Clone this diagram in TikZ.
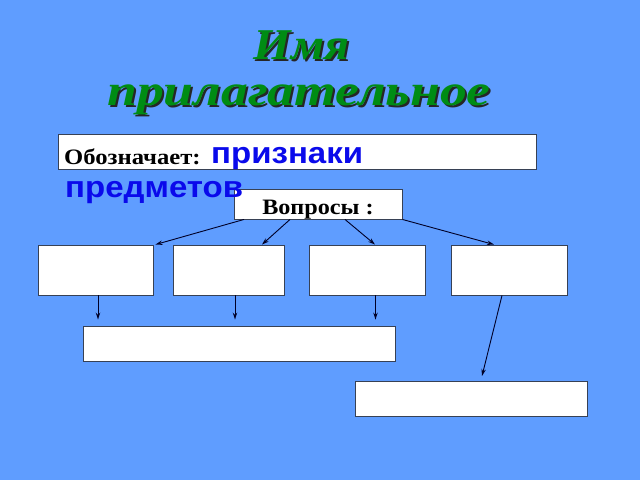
\documentclass[tikz,border=0pt]{standalone}
\usepackage{fontspec}
\setmainfont{Liberation Serif}
\newfontfamily\arialfont{Liberation Sans}
\usetikzlibrary{arrows.meta}
\definecolor{bgblue}{RGB}{95,157,255}
\definecolor{ttlgreen}{RGB}{0,140,20}
\definecolor{frame}{RGB}{55,65,85}
\definecolor{txtblue}{RGB}{10,10,235}
\begin{document}
\begin{tikzpicture}[x=1pt,y=-1pt,
  box/.style={draw=frame,fill=white,line width=0.9pt,inner sep=0pt},
  conn/.style={draw=black!85!blue,line width=0.9pt,-{Stealth[length=7pt,width=4.5pt,open]}},
  ttl/.style={font=\fontsize{44}{48}\selectfont\bfseries\itshape,inner sep=0pt,anchor=base},
  bluetxt/.style={anchor=base west,inner sep=0pt,font=\arialfont\fontsize{30}{34}\selectfont\bfseries,text=txtblue,xscale=1.1}]
\fill[bgblue] (0,0) rectangle (640,480);
\useasboundingbox (0,0) rectangle (640,480);
% title with shadow
\node[ttl,text=black!85,xscale=1.1] at (303.5,61.5) {Имя};
\node[ttl,text=ttlgreen,xscale=1.1] (t1) at (301.5,59.5) {Имя};
\node[ttl,text=black!85,xscale=1.22] at (301,107) {прилагательное};
\node[ttl,text=ttlgreen,xscale=1.22] (t2) at (299,105) {прилагательное};
% boxes
\node[box,minimum width=478,minimum height=35] (top) at (297,151.5) {};
\node[anchor=base west,inner sep=0pt,font=\fontsize{22}{24}\selectfont\bfseries,xscale=1.12] (oboz) at (64,164) {Обозначает:};
\node[bluetxt] (pr) at (211,163) {признаки};
\node[box,minimum width=168,minimum height=30] (q) at (318,204) {};
\node[anchor=base,inner sep=0pt,font=\fontsize{22}{24}\selectfont\bfseries,xscale=1.1] (qt) at (318,214) {Вопросы :};
\node[bluetxt] (pm) at (65,197) {предметов};
\node[box,minimum width=115,minimum height=50] (b1) at (95.5,270) {};
\node[box,minimum width=111,minimum height=50] (b2) at (228.5,270) {};
\node[box,minimum width=116,minimum height=50] (b3) at (367,270) {};
\node[box,minimum width=116,minimum height=50] (b4) at (509,270) {};
\node[box,minimum width=312,minimum height=35] (big) at (239,343.5) {};
\node[box,minimum width=232,minimum height=35] (bot) at (471,398.5) {};
% connectors
\draw[conn] ([xshift=-74]q.south) -- ([xshift=2]b1.north east);
\draw[conn] ([xshift=-28]q.south) -- ([xshift=33.5]b2.north);
\draw[conn] ([xshift=27]q.south) -- ([xshift=8]b3.north);
\draw[conn] (q.south east) -- ([xshift=-15]b4.north);
\draw[conn,shorten >=6pt] ([xshift=2.5]b1.south) -- ([xshift=2.5]b1.south |- big.north);
\draw[conn,shorten >=6pt] ([xshift=6.5]b2.south) -- ([xshift=6.5]b2.south |- big.north);
\draw[conn,shorten >=6pt] ([xshift=8.5]b3.south) -- ([xshift=8.5]b3.south |- big.north);
\coordinate (e4) at (482,376);
\draw[conn] ([xshift=-7]b4.south) -- (e4);
\end{tikzpicture}
\end{document}
